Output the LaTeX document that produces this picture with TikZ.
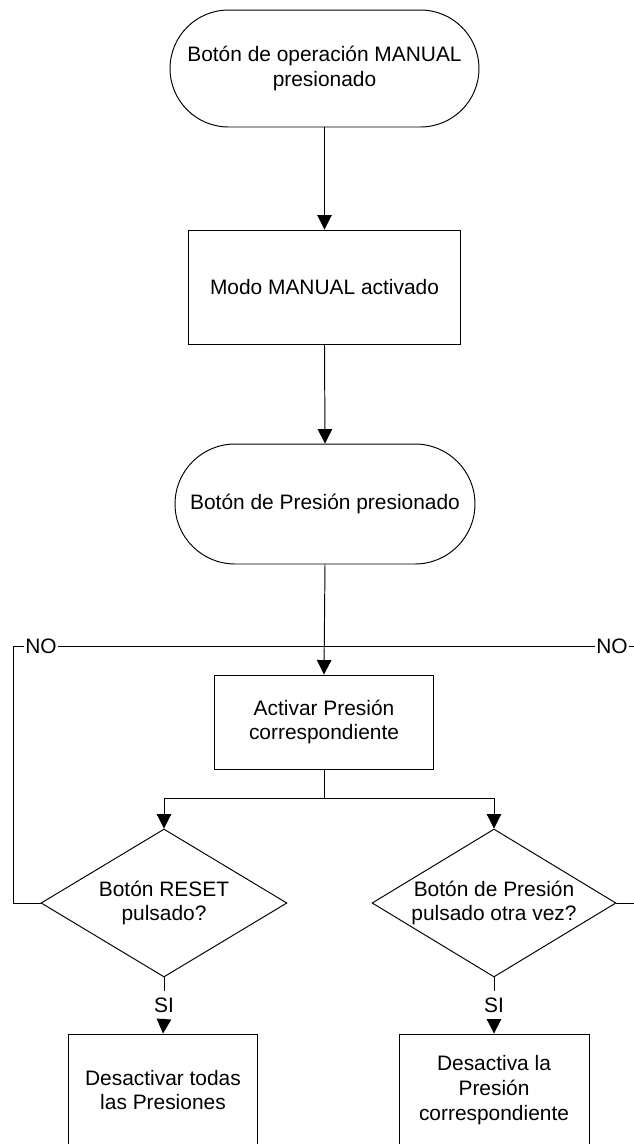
\documentclass[tikz,border=0pt]{standalone}
\usepackage{fontspec}
\setmainfont{Liberation Sans}
\usetikzlibrary{arrows.meta,positioning,shapes.geometric,shapes.misc}

\begin{document}
\begin{tikzpicture}[x=0.02cm, y=-0.02cm, line width=0.55pt,
    every node/.style={font=\fontsize{11.9}{14}\selectfont, align=center},
    terminal/.style={draw, rounded rectangle, inner sep=0pt},
    caja/.style={draw, rectangle, inner sep=0pt},
    decision/.style={draw, diamond, inner sep=0pt, aspect=1.66},
    etiqueta/.style={fill=white, inner sep=0.5pt},
    flecha/.style={-{Triangle[length=0.29cm,width=0.29cm]}}]
  \useasboundingbox (0,0) rectangle (634,1144);
  \clip (0,0) rectangle (634,1144);

  % columna central
  \node[terminal, minimum width=6.18cm, minimum height=2.34cm] (s1) at (324.5,68.5)
    {Botón de operación MANUAL\\presionado};
  \node[caja, minimum width=5.46cm, minimum height=2.28cm] (b1) at (324.5,287)
    {Modo MANUAL activado};
  \node[terminal, minimum width=6.0cm, minimum height=2.4cm] (s2) at (325,504)
    {Botón de Presión presionado};
  \node[caja, minimum width=4.4cm, minimum height=1.88cm] (b2) at (324,722)
    {Activar Presión\\correspondiente};

  % decisiones
  \node[decision, minimum width=4.92cm, minimum height=2.96cm] (rst) at (164,903)
    {Botón RESET\\pulsado?};
  \node[decision, minimum width=4.88cm, minimum height=2.96cm] (otra) at (494,903)
    {Botón de Presión\\pulsado otra vez?};
  \node (si1) at (164,1005) {SI};
  \node (si2) at (494,1005) {SI};
  \node[caja, minimum width=3.8cm, minimum height=2.24cm] (d1) at (163,1090)
    {Desactivar todas\\las Presiones};
  \node[caja, minimum width=3.8cm, minimum height=2.24cm] (d2) at (494,1090)
    {Desactiva la\\Presión\\correspondiente};

  \coordinate (mrg) at (324,646);
  \coordinate (split) at (324,798);
  \coordinate (lcorner) at (13,646);
  \coordinate (rcorner) at (636,646);

  \draw[flecha] (s1.south) -- (b1.north);
  \draw[flecha] (b1.south) -- (s2.north);
  \draw[flecha] (s2.south) -- (b2.north);
  \draw (b2.south) -- (split);
  \draw[flecha] (split) -| (rst.north);
  \draw[flecha] (split) -| (otra.north);

  % lazos de retorno (NO)
  \draw (rst.west) -| (lcorner) -- node[etiqueta, pos=0.09] {NO} (mrg);
  \draw (otra.east) -| (rcorner) -- node[etiqueta, pos=0.077] {NO} (mrg);

  % salidas SI
  \draw (rst.south) -- (si1.north);
  \draw[flecha] (si1.south) -- (d1.north);
  \draw (otra.south) -- (si2.north);
  \draw[flecha] (si2.south) -- (d2.north);
\end{tikzpicture}
\end{document}
